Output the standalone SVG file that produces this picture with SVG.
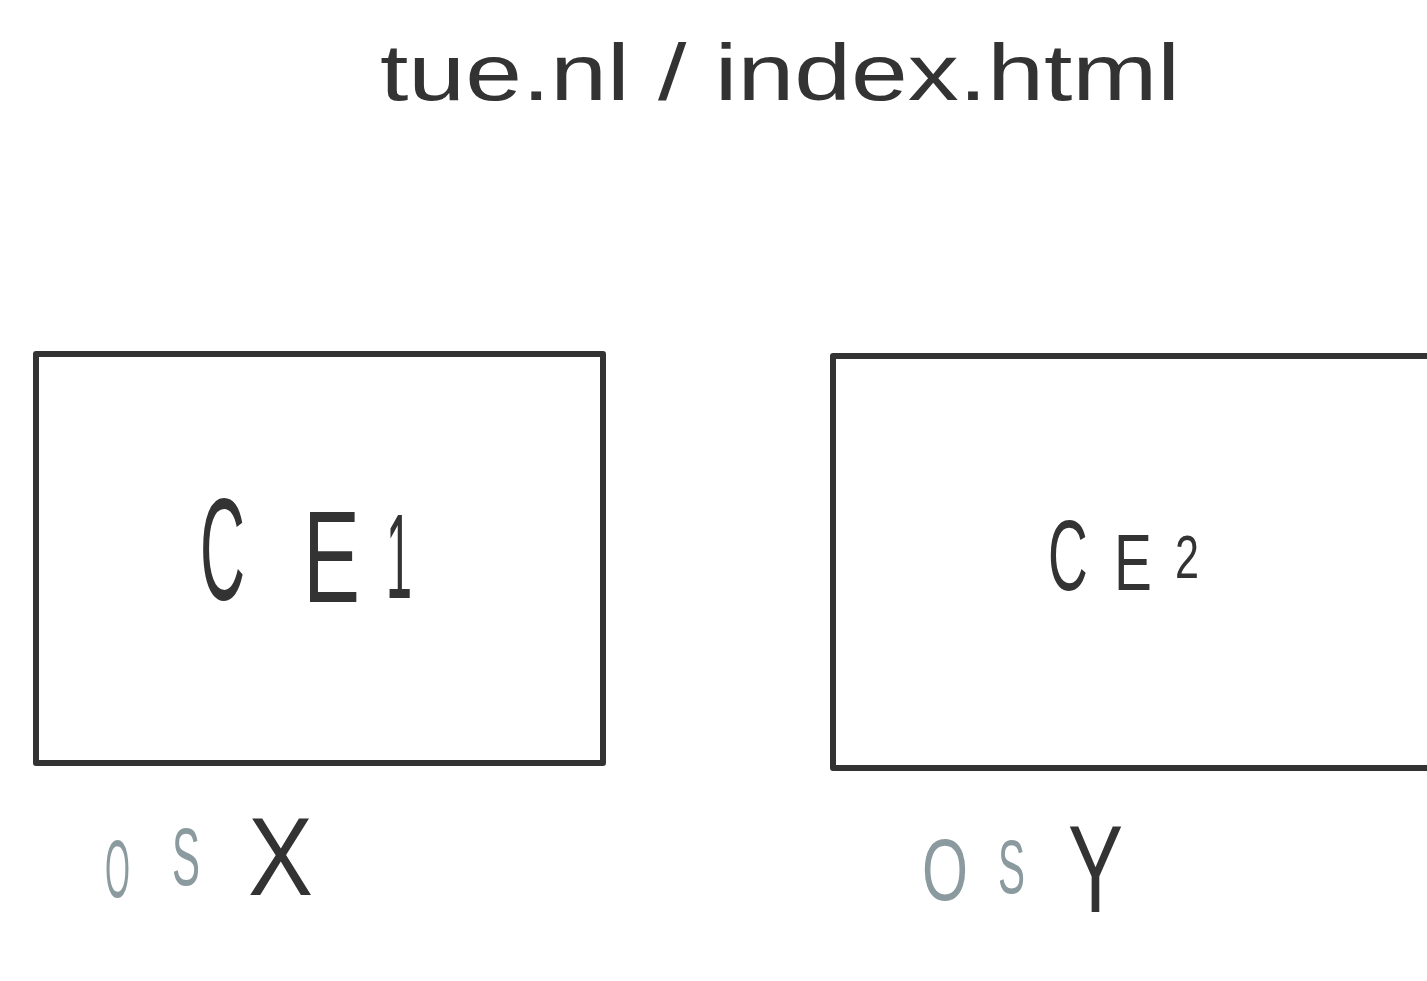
<svg xmlns="http://www.w3.org/2000/svg" width="1427" height="981" viewBox="0 0 1427 981">
<style>
.box{fill:none;stroke:#333;stroke-width:6;stroke-linejoin:round}
.t{font-family:"Liberation Sans",Arial,sans-serif;fill:#333}
.g{font-family:"Liberation Sans",Arial,sans-serif;fill:#8a9a9e}
</style>
<rect width="1427" height="981" fill="#fff"/>
<g id="title"><text class="t" x="380" y="100" font-size="80" textLength="800" lengthAdjust="spacingAndGlyphs">tue.nl / index.html</text></g>
<g id="ce1">
<rect class="box" x="36" y="354" width="567" height="409"/>
<text class="t" x="200" y="600" font-size="145" textLength="45" lengthAdjust="spacingAndGlyphs">C</text>
<text class="t" x="303" y="602" font-size="130" textLength="57" lengthAdjust="spacingAndGlyphs">E</text>
<text class="t" x="386" y="598" font-size="120" textLength="26" lengthAdjust="spacingAndGlyphs">1</text>
<text class="g" x="105" y="897" font-size="82" textLength="25" lengthAdjust="spacingAndGlyphs">O</text>
<text class="g" x="172" y="885" font-size="82" textLength="28" lengthAdjust="spacingAndGlyphs">S</text>
<text class="t" x="248" y="895" font-size="112" textLength="65" lengthAdjust="spacingAndGlyphs">X</text>
</g>
<g id="ce2">
<rect class="box" x="833" y="356" width="620" height="412"/>
<text class="t" transform="translate(1048,590) scale(0.55,1)" font-size="100">C</text>
<text class="t" transform="translate(1114,590) scale(0.71,1)" font-size="80">E</text>
<text class="t" x="1175" y="578" font-size="62" textLength="24" lengthAdjust="spacingAndGlyphs">2</text>
<text class="g" x="922" y="900" font-size="88" textLength="46" lengthAdjust="spacingAndGlyphs">O</text>
<text class="g" x="998" y="893" font-size="76" textLength="27" lengthAdjust="spacingAndGlyphs">S</text>
<text class="t" x="1068" y="912" font-size="124" textLength="55" lengthAdjust="spacingAndGlyphs">Y</text>
</g>
<g id="connectors"/>
</svg>
